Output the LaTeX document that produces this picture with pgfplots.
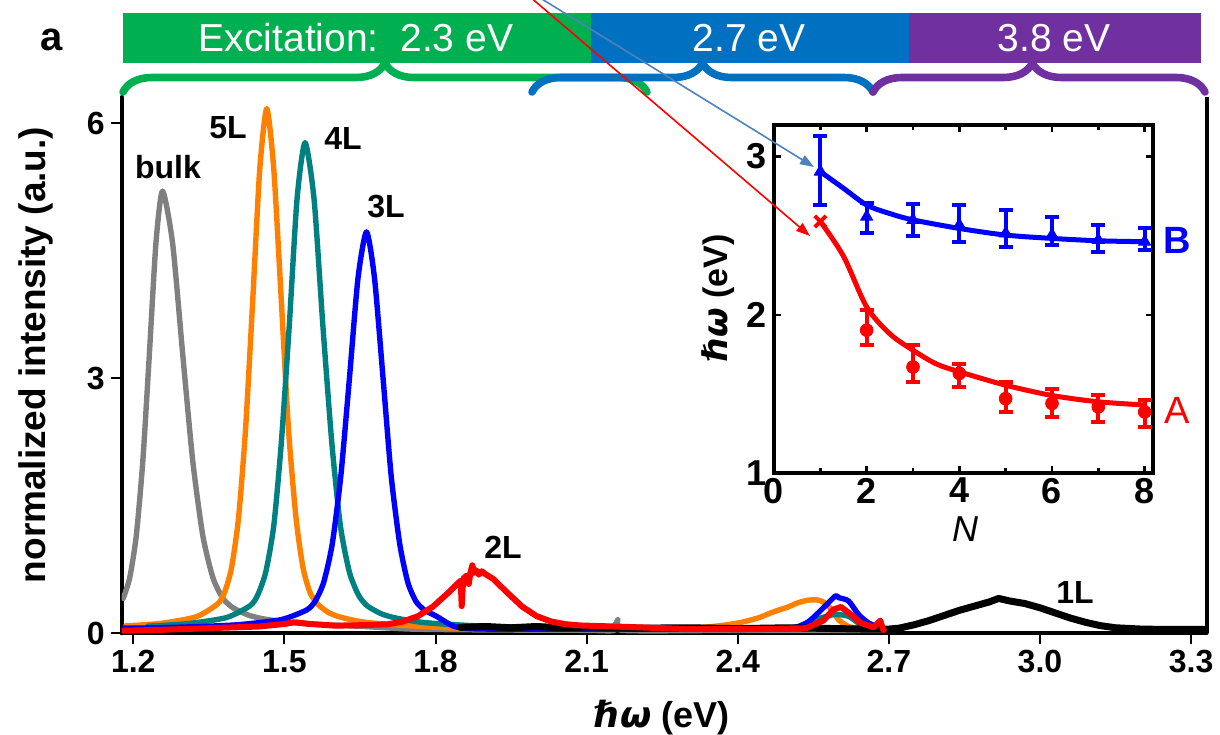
\documentclass[border=0pt]{standalone}
\usepackage{fontspec}
\setmainfont{Liberation Sans}
\newfontfamily\djv{DejaVu Sans}
\usepackage{pgfplots}
\pgfplotsset{compat=1.18}
\usetikzlibrary{decorations.pathreplacing, arrows.meta}
\definecolor{cgreen}{RGB}{0,176,80}
\definecolor{cblue}{RGB}{0,112,192}
\definecolor{cpurple}{RGB}{112,48,160}
\definecolor{cgray}{RGB}{128,128,128}
\definecolor{corange}{RGB}{255,128,0}
\definecolor{cteal}{RGB}{0,128,128}
\definecolor{arrowblue}{RGB}{79,129,189}
\newcommand{\tlf}{\fontsize{16}{18}\selectfont\bfseries}
\newcommand{\hw}{{\djv\bfseries\itshape ℏω}}
\begin{document}
\begin{tikzpicture}[x=0.5pt,y=0.5pt]
\path[use as bounding box] (0,0) rectangle (1220,734);
% ---------- main axis ----------
\begin{axis}[name=main, at={(60.85pt,50.35pt)}, anchor=south west, scale only axis,
  width=542.5pt, height=268.15pt,
  xmin=1.177, xmax=3.331, ymin=0, ymax=6.306,
  axis x line*=bottom, axis y line*=left,
  axis line style={line width=2pt, black},
  xtick={1.2,1.5,1.8,2.1,2.4,2.7,3.0,3.3},
  xticklabels={1.2,1.5,1.8,2.1,2.4,2.7,3.0,3.3},
  ytick={0,3,6}, yticklabels={0,3,6},
  tick align=outside, major tick length=5pt,
  tick style={line width=1pt, black},
  ticklabel style={font=\tlf},
  line join=round, line cap=round]
% bulk (gray)
\addplot[cgray, line width=2.7pt, smooth, tension=0.4] coordinates {
(1.180,0.41)(1.193,0.655)(1.206,1.15)(1.219,2.03)(1.232,3.29)(1.245,4.59)(1.258,5.20)
(1.278,4.59)(1.298,3.29)(1.318,2.03)(1.338,1.15)(1.358,0.655)(1.378,0.41)(1.398,0.30)
(1.428,0.215)(1.458,0.17)(1.508,0.13)(1.558,0.107)(1.658,0.08)(1.75,0.05)(1.9,0.04)
(2.1,0.035)(2.155,0.035)(2.162,0.16)(2.17,0.035)(2.4,0.035)(2.69,0.035)};
% 5L (orange)
\addplot[corange, line width=2.7pt, smooth, tension=0.4] coordinates {
(1.185,0.087)(1.255,0.117)(1.325,0.194)(1.367,0.344)(1.381,0.478)(1.395,0.769)(1.409,1.36)
(1.423,2.41)(1.437,3.90)(1.451,5.45)(1.465,6.17)(1.479,5.45)(1.494,3.90)(1.508,2.41)
(1.523,1.36)(1.537,0.769)(1.551,0.478)(1.566,0.344)(1.587,0.246)(1.609,0.194)(1.645,0.144)
(1.681,0.117)(1.753,0.087)(1.85,0.06)(2.0,0.05)(2.2,0.05)(2.29,0.06)(2.35,0.08)(2.40,0.12)
(2.44,0.18)(2.47,0.25)(2.50,0.31)(2.52,0.36)(2.54,0.39)(2.56,0.39)(2.575,0.35)(2.59,0.25)
(2.60,0.16)(2.62,0.08)(2.65,0.05)(2.69,0.04)};
% 4L (teal)
\addplot[cteal, line width=2.7pt, smooth, tension=0.4] coordinates {
(1.229,0.084)(1.307,0.113)(1.385,0.185)(1.432,0.325)(1.447,0.45)(1.463,0.72)(1.479,1.27)
(1.494,2.25)(1.510,3.65)(1.525,5.10)(1.541,5.77)(1.559,5.10)(1.576,3.65)(1.594,2.25)
(1.611,1.27)(1.629,0.72)(1.647,0.45)(1.664,0.325)(1.691,0.233)(1.717,0.185)(1.761,0.138)
(1.805,0.113)(1.893,0.084)(2.0,0.06)(2.3,0.05)(2.48,0.05)(2.51,0.06)(2.55,0.15)(2.59,0.22)
(2.62,0.20)(2.645,0.10)(2.68,0.05)(2.69,0.04)};
% 3L (blue)
\addplot[blue, line width=2.7pt, smooth, tension=0.4] coordinates {
(1.180,0.06)(1.25,0.065)(1.323,0.078)(1.408,0.101)(1.493,0.16)(1.544,0.274)(1.561,0.377)
(1.578,0.599)(1.595,1.05)(1.612,1.85)(1.629,2.99)(1.646,4.17)(1.663,4.72)(1.679,4.17)
(1.696,2.99)(1.712,1.85)(1.729,1.05)(1.745,0.599)(1.761,0.377)(1.778,0.274)(1.802,0.20)
(1.827,0.11)(1.845,0.07)(1.9,0.05)(2.2,0.05)(2.49,0.06)(2.536,0.12)(2.57,0.30)(2.594,0.44)
(2.60,0.42)(2.62,0.38)(2.64,0.22)(2.66,0.12)(2.685,0.06)(2.69,0.05)};
% 1L (black)
\addplot[black, line width=3.5pt] coordinates {
(1.849,0.07)(1.9,0.08)(1.95,0.065)(2.0,0.08)(2.05,0.065)(2.1,0.075)(2.2,0.06)(2.3,0.065)
(2.4,0.055)(2.5,0.065)(2.6,0.055)(2.65,0.05)(2.70,0.05)(2.72,0.06)(2.75,0.10)(2.78,0.15)
(2.81,0.21)(2.84,0.27)(2.87,0.32)(2.90,0.37)(2.918,0.41)(2.94,0.38)(2.97,0.35)(3.00,0.30)
(3.03,0.24)(3.06,0.18)(3.09,0.13)(3.12,0.09)(3.15,0.065)(3.20,0.05)(3.25,0.045)(3.33,0.045)};
% 2L (red)
\addplot[red, line width=3pt] coordinates {
(1.180,0.03)(1.25,0.04)(1.35,0.06)(1.45,0.08)(1.50,0.11)(1.52,0.13)(1.55,0.11)(1.60,0.09)
(1.65,0.095)(1.705,0.106)(1.735,0.138)(1.765,0.201)(1.795,0.314)(1.825,0.475)(1.850,0.62)
(1.852,0.32)(1.855,0.64)(1.862,0.68)(1.866,0.58)(1.869,0.70)(1.873,0.80)(1.877,0.71)
(1.881,0.74)(1.886,0.69)(1.892,0.73)(1.898,0.70)(1.914,0.642)(1.943,0.475)(1.972,0.314)
(2.001,0.201)(2.030,0.138)(2.059,0.106)(2.088,0.092)(2.175,0.076)(2.3,0.05)(2.45,0.05)
(2.536,0.06)(2.57,0.15)(2.59,0.28)(2.605,0.31)(2.625,0.22)(2.645,0.12)(2.67,0.07)
(2.683,0.15)(2.688,0.05)(2.69,0.04)};
\end{axis}
\draw[line width=2pt] (main.south east) -- (main.north east);
% peak labels
\begin{scope}[every node/.style={font=\fontsize{16}{18}\selectfont\bfseries}]
\node at (168,567) {bulk};
\node at (228,606) {5L};
\node at (343,596) {4L};
\node at (386,527) {3L};
\node at (503,187) {2L};
\node at (1075,142) {1L};
\end{scope}
\node[rotate=90, font=\fontsize{18.5}{20}\selectfont\bfseries] at (36,379) {normalized intensity (a.u.)};
\node[font=\fontsize{18}{20}\selectfont\bfseries] at (662,16) {\hw\ (eV)};
% ---------- inset ----------
\begin{axis}[name=inset, at={(387pt,130.5pt)}, anchor=south west, scale only axis,
  width=189.5pt, height=174pt,
  xmin=0, xmax=8.18, ymin=1, ymax=3.2,
  axis line style={line width=2pt, black},
  xtick={0,2,4,6,8}, xticklabels={0,2,4,6,8},
  minor xtick={1,3,5,7},
  ytick={1,2,3}, yticklabels={1,2,3},
  tick align=inside, major tick length=3.5pt, minor tick length=2.5pt,
  tick style={line width=1.2pt, black},
  ticklabel style={font=\fontsize{18}{20}\selectfont\bfseries},
  xticklabel style={yshift=1pt},
  clip=false]
\addplot[blue, line width=2.5pt, smooth] coordinates {
(1,2.905)(1.5,2.80)(2,2.694)(2.5,2.64)(3,2.60)(4,2.546)(5,2.504)(6,2.483)(7,2.468)(8,2.462)};
\addplot[red, line width=2.5pt, smooth] coordinates {
(1,2.59)(1.5,2.37)(2,2.05)(2.5,1.88)(3,1.776)(3.5,1.69)(4,1.64)(5,1.555)(6,1.49)(7,1.45)(8,1.43)};
\addplot[only marks, blue, mark=triangle*, mark size=3.5pt,
  error bars/.cd, y dir=both, y explicit,
  error bar style={line width=2pt, blue},
  error mark options={rotate=90, mark size=3.5pt, line width=2pt, blue}]
coordinates {
(1,2.905) += (0,0.225) -= (0,0.211)
(2,2.62) += (0,0.085) -= (0,0.105)
(3,2.60) += (0,0.10) -= (0,0.10)
(4,2.567) += (0,0.127) -= (0,0.105)
(5,2.515) += (0,0.145) -= (0,0.085)
(6,2.504) += (0,0.116) -= (0,0.064)
(7,2.473) += (0,0.094) -= (0,0.073)
(8,2.462) += (0,0.084) -= (0,0.052)};
\addplot[only marks, red, mark=*, mark size=3.2pt,
  error bars/.cd, y dir=both, y explicit,
  error bar style={line width=2pt, red},
  error mark options={rotate=90, mark size=3.5pt, line width=2pt, red}]
coordinates {
(2,1.903) += (0,0.127) -= (0,0.093)
(3,1.67) += (0,0.14) -= (0,0.094)
(4,1.63) += (0,0.06) -= (0,0.086)
(5,1.47) += (0,0.106) -= (0,0.084)
(6,1.44) += (0,0.094) -= (0,0.086)
(7,1.418) += (0,0.072) -= (0,0.098)
(8,1.386) += (0,0.074) -= (0,0.096)};
\addplot[only marks, red, mark=x, mark size=4pt, line width=2pt] coordinates {(1,2.59)};
\end{axis}
\node[font=\fontsize{18}{20}\selectfont\itshape] at (965,205) {N};
\node[rotate=90, font=\fontsize{17}{18}\selectfont\bfseries] at (718,436) {\hw\ (eV)};
\node[blue, font=\fontsize{19}{20}\selectfont\bfseries] at (1177,494) {B};
\node[red, font=\fontsize{19}{20}\selectfont] at (1177,324) {A};
% ---------- top bars ----------
\fill[cgreen] (123,721) rectangle (591,671);
\fill[cblue] (591,721) rectangle (909,671);
\fill[cpurple] (909,721) rectangle (1201,671);
\begin{scope}[every node/.style={anchor=base, white, font=\fontsize{19.5}{20}\selectfont}]
\node at (356,682.5) {Excitation:\ \ 2.3 eV};
\node at (749,682.5) {2.7 eV};
\node at (1054,682.5) {3.8 eV};
\end{scope}
\draw[cgreen, line width=3.8pt, line cap=round, decorate, decoration={brace, amplitude=14.5pt}] (123,642) -- (647,642);
\draw[cblue, line width=3.8pt, line cap=round, decorate, decoration={brace, amplitude=14.5pt}] (532,642) -- (873,642);
\draw[cpurple, line width=3.8pt, line cap=round, decorate, decoration={brace, amplitude=14.5pt, aspect=0.48}] (873,642) -- (1205,642);
\node[font=\fontsize{20}{22}\selectfont\bfseries] at (52,694) {a};
% ---------- arrows ----------
\draw[red, line width=0.8pt, -{Triangle[length=7pt,width=5pt]}] (529,738) -- (810,498);
\draw[arrowblue, line width=0.8pt, -{Triangle[length=7pt,width=5pt]}] (537,738) -- (814,567);
\end{tikzpicture}
\end{document}
